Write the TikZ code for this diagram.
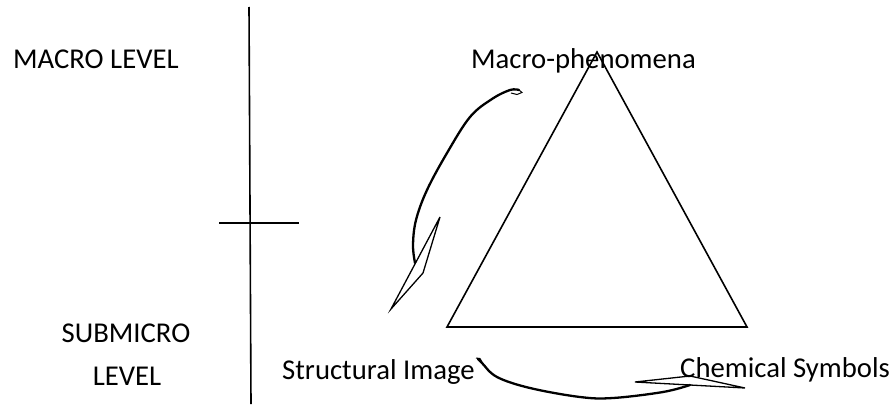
\documentclass[tikz,border=0pt]{standalone}
\usepackage{fontspec}
\setmainfont{Carlito}
\begin{document}
\begin{tikzpicture}[x=1pt,y=-1pt,
  lbl/.style={anchor=base west, inner sep=0pt, font=\fontsize{28.7}{34}\selectfont},
  rule/.style={line width=1.6pt},
  shaft/.style={line width=2.3pt, line cap=round},
  headln/.style={line width=1.3pt, line join=miter}]
\useasboundingbox (0,0) rectangle (896,404);
% texts
\node[lbl] (macro) at (13,68) {MACRO LEVEL};
\node[lbl] (phen) at (471,68) {Macro-phenomena};
\node[lbl,anchor=base] (sub1) at (126,342) {SUBMICRO};
\node[lbl,anchor=base] (sub2) at (127,385) {LEVEL};
\node[lbl] (struct) at (282,379) {Structural Image};
\node[lbl] (chem) at (680,377) {Chemical Symbols};
% axis
\coordinate (vtop) at (249,7);
\coordinate (vbot) at (251,404);
\coordinate (hl) at (219,223);
\coordinate (hr) at (299,223);
\draw[rule] (vtop) -- (vbot);
\draw[rule] (hl) -- (hr);
% triangle
\coordinate (tA) at (597,52);
\coordinate (tB) at (447,327);
\coordinate (tC) at (747,327);
\draw[rule, line join=miter] (tA) -- (tB) -- (tC) -- cycle;
% left curved arrow
\draw[shaft] plot[smooth, tension=0.6] coordinates {(415,263) (413,245) (416,220) (427,190) (447,153) (470,117) (492,99) (510,90) (519,90)};
\draw[line width=1pt] (519,90) -- (522,92.5) -- (517,94.5) -- (511,93);
\draw[headln] (391,309) -- (440,217) -- (423,273) -- cycle;
% bottom curved arrow
\draw[line width=1pt] (476,358) -- (480,358.5) -- (482,362);
\draw[shaft] plot[smooth, tension=0.6] coordinates {(478,359) (482,363) (497,377) (530,388) (580,397) (613,398) (663,392) (690,385)};
\draw[headln] (745,388) -- (635,382) -- (690,376) -- cycle;
\end{tikzpicture}
\end{document}
